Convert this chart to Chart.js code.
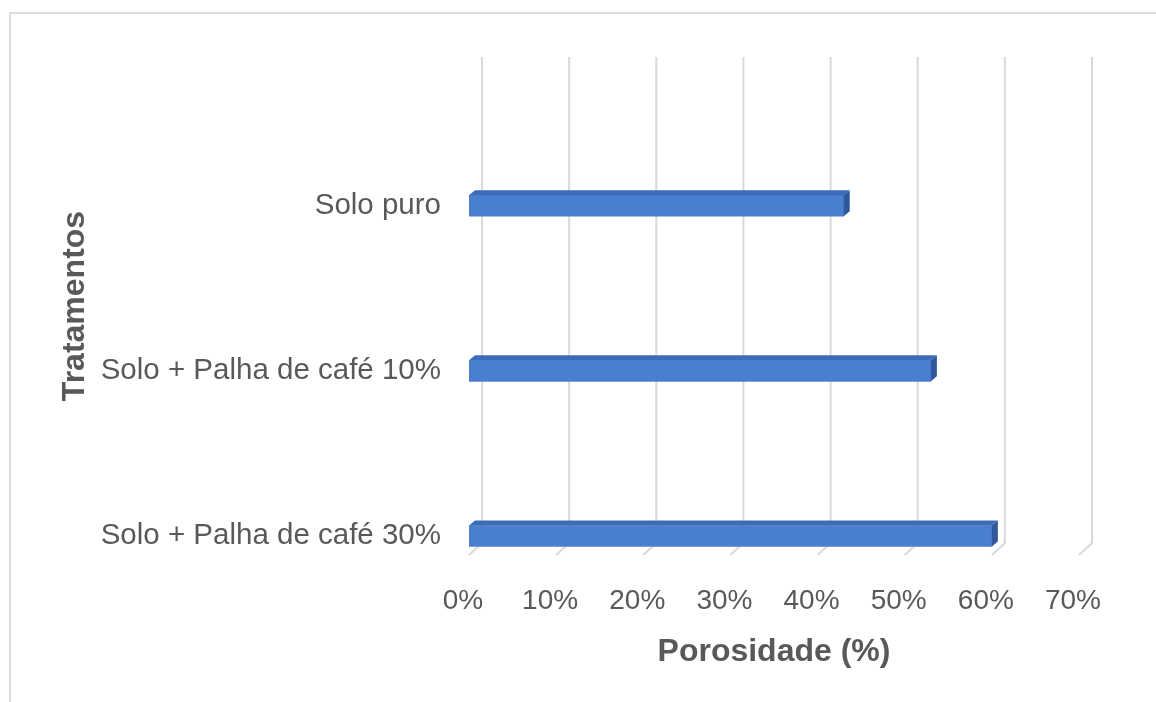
<!DOCTYPE html>
<html lang="pt">
<head>
    <meta charset="UTF-8">
    <title>Porosidade por tratamento</title>
    <script src="https://cdn.jsdelivr.net/npm/chart.js"></script>
    <style>
        body { margin: 0; background: #fff; }
        .frame {
            position: absolute; left: 9px; top: 12px; width: 1200px; height: 720px;
            border-left: 2px solid #dcdcdc; border-top: 2px solid #dcdcdc;
        }
        .chart-container {
            position: absolute; left: 0; top: 0; width: 1156px; height: 702px;
        }
    </style>
</head>
<body>
    <div class="frame"></div>
    <div class="chart-container">
        <canvas id="porosityChart"></canvas>
    </div>

    <script>
        // dados
        const categories = ['Solo puro', 'Solo + Palha de café 10%', 'Solo + Palha de café 30%'];
        const porosity = [43, 53, 60];
        const xTickValues = [0, 10, 20, 30, 40, 50, 60, 70];

        const textColor = '#595959';
        const gridColor = '#d9d9d9';
        const depthX = 13, depthY = 12;   // profundidade do "piso" 3D

        // grade em perspectiva (parede do fundo + piso)
        const gridPlugin = {
            id: 'grid3d',
            beforeDatasetsDraw(chart) {
                const ctx = chart.ctx;
                const xs = chart.scales.x;
                const area = chart.chartArea;
                ctx.save();
                ctx.strokeStyle = gridColor;
                ctx.lineWidth = 2;
                xs.ticks.forEach(t => {
                    const px = xs.getPixelForValue(t.value);
                    ctx.beginPath();
                    ctx.moveTo(px + depthX, area.top);
                    ctx.lineTo(px + depthX, area.bottom - depthY);
                    ctx.lineTo(px, area.bottom);
                    ctx.stroke();
                });
                ctx.restore();
            }
        };

        // faces de cima e lateral das barras
        const bar3dPlugin = {
            id: 'bar3d',
            afterDatasetsDraw(chart) {
                const ctx = chart.ctx;
                const dx = 6, dy = -5;
                chart.getDatasetMeta(0).data.forEach(bar => {
                    const p = bar.getProps(['x', 'y', 'base', 'height'], true);
                    const top = p.y - p.height / 2;
                    const bottom = p.y + p.height / 2;
                    ctx.save();
                    ctx.fillStyle = '#3c6bb8';
                    ctx.beginPath();
                    ctx.moveTo(p.base, top);
                    ctx.lineTo(p.x, top);
                    ctx.lineTo(p.x + dx, top + dy);
                    ctx.lineTo(p.base + dx, top + dy);
                    ctx.closePath();
                    ctx.fill();
                    ctx.fillStyle = '#2f579c';
                    ctx.beginPath();
                    ctx.moveTo(p.x, top);
                    ctx.lineTo(p.x + dx, top + dy);
                    ctx.lineTo(p.x + dx, bottom + dy);
                    ctx.lineTo(p.x, bottom);
                    ctx.closePath();
                    ctx.fill();
                    ctx.restore();
                });
            }
        };

        const ctx = document.getElementById('porosityChart').getContext('2d');
        new Chart(ctx, {
            type: 'bar',
            data: {
                datasets: [{
                    label: 'Porosidade (%)',
                    data: categories.map((c, i) => ({ x: porosity[i], y: i })),
                    backgroundColor: '#4a7fd0',
                    barThickness: 21
                }]
            },
            options: {
                indexAxis: 'y',
                responsive: true,
                maintainAspectRatio: false,
                animation: false,
                layout: { padding: { left: 0, right: 77, top: 57, bottom: 0 } },
                plugins: {
                    legend: { display: false },
                    tooltip: { enabled: false }
                },
                scales: {
                    x: {
                        type: 'linear',
                        min: 0,
                        max: 70,
                        afterBuildTicks: s => { s.ticks = xTickValues.map(v => ({ value: v })); },
                        afterFit: s => { s.height = 147; },
                        grid: { display: false, drawTicks: false },
                        border: { display: false },
                        ticks: {
                            color: textColor,
                            font: { family: 'Liberation Sans', size: 28 },
                            padding: 29,
                            labelOffset: -6,
                            callback: v => v + '%'
                        },
                        title: {
                            display: true,
                            text: 'Porosidade (%)',
                            color: textColor,
                            font: { family: 'Liberation Sans', size: 32, weight: 'bold' },
                            padding: { top: 0, bottom: 31 }
                        }
                    },
                    y: {
                        type: 'linear',
                        reverse: true,
                        offset: false,
                        min: -0.9,
                        max: 2.115,
                        afterBuildTicks: s => { s.ticks = categories.map((c, i) => ({ value: i })); },
                        afterFit: s => { s.width = 469; },
                        grid: { display: false, drawTicks: false, offset: false },
                        border: { display: false },
                        ticks: {
                            autoSkip: false,
                            color: textColor,
                            font: { family: 'Liberation Sans', size: 29.5 },
                            padding: 28,
                            callback: v => categories[v]
                        },
                        title: {
                            display: true,
                            text: 'Tratamentos',
                            color: textColor,
                            font: { family: 'Liberation Sans', size: 32, weight: 'bold' },
                            padding: { top: 56, bottom: 0 }
                        }
                    }
                }
            },
            plugins: [gridPlugin, bar3dPlugin]
        });
    </script>
</body>
</html>
